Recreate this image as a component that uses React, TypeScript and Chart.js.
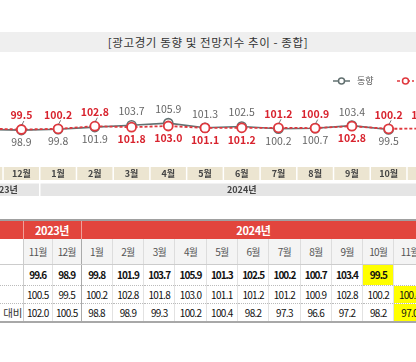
import React, { useEffect, useRef } from "react";
import { Chart, registerables } from "chart.js";

Chart.register(...registerables);

// ---------- data ----------
const titleText = "[광고경기 동향 및 전망지수 추이 - 종합]";
const months = ["11월", "12월", "1월", "2월", "3월", "4월", "5월", "6월", "7월", "8월", "9월", "10월", "11월"];
const years = ["2023년", "2024년"];
const yearMonthCounts = [2, 11];
const seriesNames = ["동향", "전망"];
const trendValues: (number | null)[] = [99.6, 98.9, 99.8, 101.9, 103.7, 105.9, 101.3, 102.5, 100.2, 100.7, 103.4, 99.5, null];
const outlookValues: (number | null)[] = [100.5, 99.5, 100.2, 102.8, 101.8, 103.0, 101.1, 101.2, 101.2, 100.9, 102.8, 100.2, 100.4];
const yoyValues: (number | null)[] = [102.0, 100.5, 98.8, 98.9, 99.3, 100.2, 100.4, 98.2, 97.3, 96.6, 97.2, 98.2, 97.0];
const rowLabels = ["", "", "대비"];

const FONT = "'Noto Sans CJK KR', 'Noto Sans', sans-serif";
const GRAY = "#627070";
const RED = "#e0383e";

const fmt = (v: number | null) => (v == null ? "" : v.toFixed(1));

const bandsPlugin = {
  id: "bands",
  beforeDraw(chart: any) {
    const { ctx, chartArea } = chart;
    const x = chart.scales.x;
    const n = months.length;
    const w = (chartArea.right - chartArea.left) / n;
    const b = chartArea.bottom;
    ctx.save();
    for (let i = 0; i < n; i++) {
      const cx = x.getPixelForValue(i);
      ctx.fillStyle = "#ece5d1";
      ctx.fillRect(cx - w / 2 + 0.75, b, w - 1.5, 13);
    }
    let start = 0;
    yearMonthCounts.forEach((cnt, k) => {
      const x0 = x.getPixelForValue(start) - w / 2;
      const x1 = x.getPixelForValue(start + cnt - 1) + w / 2;
      ctx.fillStyle = "#e5e5e5";
      ctx.fillRect(x0 + 0.75, b + 16.5, x1 - x0 - 1.5, 12.5);
      ctx.fillStyle = "#444";
      ctx.font = `bold 9px ${FONT}`;
      ctx.textAlign = "center";
      ctx.textBaseline = "middle";
      ctx.fillText(years[k], (x0 + x1) / 2, b + 23);
      start += cnt;
    });
    ctx.restore();
  },
};

const labelsPlugin = {
  id: "valueLabels",
  afterDatasetsDraw(chart: any) {
    const { ctx } = chart;
    const m0 = chart.getDatasetMeta(0);
    const m1 = chart.getDatasetMeta(1);
    ctx.save();
    ctx.textAlign = "center";
    ctx.textBaseline = "middle";
    for (let i = 0; i < months.length; i++) {
      const a = trendValues[i];
      const r = outlookValues[i];
      const pa = m0.data[i];
      const pr = m1.data[i];
      const grayAbove = a != null && (r == null || a > r);
      if (a != null && pa) {
        ctx.font = `10.5px ${FONT}`;
        ctx.fillStyle = "#666";
        ctx.fillText(fmt(a), pa.x, grayAbove ? pa.y - 14 : pa.y + 12);
      }
      if (r != null && pr) {
        ctx.font = `bold 10.5px ${FONT}`;
        ctx.fillStyle = "#d8232e";
        const y = grayAbove ? pr.y + 12 : pr.y - 14;
        ctx.fillText(fmt(r), pr.x, y);
        if (!grayAbove) {
          ctx.strokeStyle = "#555";
          ctx.lineWidth = 0.8;
          ctx.beginPath();
          ctx.moveTo(pr.x + 0.5, pr.y - 4.5);
          ctx.lineTo(pr.x + 2.5, pr.y - 8.5);
          ctx.stroke();
        }
      }
    }
    ctx.restore();
  },
};

const legendPlugin = {
  id: "customLegend",
  afterDraw(chart: any) {
    const { ctx } = chart;
    const y = 25;
    const items = [
      { x: 373, color: GRAY, dash: [] as number[], name: seriesNames[0] },
      { x: 437, color: RED, dash: [3, 2], name: seriesNames[1] },
    ];
    ctx.save();
    items.forEach((it) => {
      ctx.strokeStyle = it.color;
      ctx.lineWidth = 1.5;
      ctx.setLineDash(it.dash);
      ctx.beginPath();
      ctx.moveTo(it.x, y);
      ctx.lineTo(it.x + 17, y);
      ctx.stroke();
      ctx.setLineDash([]);
      ctx.fillStyle = "#fff";
      ctx.beginPath();
      ctx.arc(it.x + 8.5, y, 3, 0, Math.PI * 2);
      ctx.fill();
      ctx.stroke();
      ctx.fillStyle = "#555";
      ctx.font = `9px ${FONT}`;
      ctx.textAlign = "left";
      ctx.textBaseline = "middle";
      ctx.fillText(it.name, it.x + 24, y);
    });
    ctx.restore();
  },
};

function ChartBlock() {
  const ref = useRef<HTMLCanvasElement | null>(null);
  useEffect(() => {
    if (!ref.current) return;
    const chart = new Chart(ref.current, {
      type: "line",
      data: {
        labels: months,
        datasets: [
          {
            label: seriesNames[0],
            data: trendValues,
            borderColor: GRAY,
            borderWidth: 1.6,
            pointRadius: 4.5,
            pointBackgroundColor: "#fff",
            pointBorderColor: GRAY,
            pointBorderWidth: 1.6,
            tension: 0,
            order: 1,
          },
          {
            label: seriesNames[1],
            data: outlookValues,
            borderColor: RED,
            borderWidth: 1.8,
            borderDash: [3, 2],
            pointRadius: 4.5,
            pointBackgroundColor: "#fff",
            pointBorderColor: RED,
            pointBorderWidth: 1.8,
            tension: 0,
            order: 0,
          },
        ],
      },
      options: {
        responsive: false,
        animation: false,
        devicePixelRatio: 1,
        layout: { padding: { top: 31, left: 0, right: 0, bottom: 0 } },
        plugins: { legend: { display: false }, tooltip: { enabled: false }, title: { display: false } },
        scales: {
          x: {
            type: "category",
            offset: true,
            grid: { display: false, drawTicks: false },
            border: { display: false },
            ticks: {
              font: { size: 9, weight: "bold", family: FONT },
              color: "#444",
              padding: 1,
              maxRotation: 0,
              autoSkip: false,
            },
            afterFit: (scale: any) => {
              scale.height = 34;
            },
          },
          y: { display: false, min: 62, max: 142 },
        },
      },
      plugins: [bandsPlugin, labelsPlugin, legendPlugin],
    } as any);
    return () => chart.destroy();
  }, []);
  return (
    <canvas
      ref={ref}
      width={490}
      height={145}
      style={{ position: "absolute", left: -40, top: 56, width: 490, height: 145 }}
    />
  );
}

const colWidths = [23, 29.5, 28.5, ...Array(11).fill(31.3)];

function DataTable() {
  const base: React.CSSProperties = {
    padding: 0,
    textAlign: "center",
    fontFamily: FONT,
    whiteSpace: "nowrap",
    overflow: "hidden",
  };
  const rows = [
    { values: trendValues, bold: true, height: 21, hl: 11, border: "1px dotted #bbb" },
    { values: outlookValues, bold: false, height: 18, hl: 12, border: "1px dotted #bbb" },
    { values: yoyValues, bold: false, height: 19, hl: 12, border: "none" },
  ];
  return (
    <table
      style={{
        position: "absolute",
        top: 219,
        left: 0,
        borderCollapse: "collapse",
        tableLayout: "fixed",
        width: colWidths.reduce((s, v) => s + v, 0),
        borderTop: "2px solid #a0a0a0",
        borderBottom: "2px solid #a8a8a8",
      }}
    >
      <colgroup>
        {colWidths.map((w, i) => (
          <col key={i} style={{ width: w }} />
        ))}
      </colgroup>
      <tbody>
        <tr style={{ height: 19 }}>
          <td style={{ ...base, background: "#e2453d", borderRight: "1px solid #f0a09a" }} />
          <td
            colSpan={yearMonthCounts[0]}
            style={{ ...base, background: "#e2453d", color: "#fff", fontWeight: "bold", fontSize: 11, letterSpacing: -0.4, borderRight: "1px solid #f0a09a" }}
          >
            {years[0]}
          </td>
          <td
            colSpan={yearMonthCounts[1]}
            style={{ ...base, background: "#e2453d", color: "#fff", fontWeight: "bold", fontSize: 11, letterSpacing: -0.4 }}
          >
            {years[1]}
          </td>
        </tr>
        <tr style={{ height: 25 }}>
          <td style={{ ...base, background: "#fff", borderRight: "1px solid #ccc", borderBottom: "1px solid #ccc" }} />
          {months.map((m, i) => (
            <td
              key={i}
              style={{
                ...base,
                background: "#f4f4f4",
                color: "#555",
                fontSize: 10,
                letterSpacing: -0.8,
                borderRight: i === 1 ? "1px solid #aaa" : "1px solid #ddd",
                borderBottom: "1px solid #ccc",
              }}
            >
              {m}
            </td>
          ))}
        </tr>
        {rows.map((row, r) => (
          <tr key={r} style={{ height: row.height }}>
            <td style={{ ...base, fontSize: 10.5, color: "#333", textAlign: "right", borderRight: "1px solid #ccc", borderBottom: row.border }}>
              {rowLabels[r]}
            </td>
            {row.values.map((v, i) => (
              <td
                key={i}
                style={{
                  ...base,
                  fontSize: 10,
                  fontWeight: row.bold ? "bold" : "normal",
                  letterSpacing: row.bold ? -1 : -0.7,
                  color: "#111",
                  background: i === row.hl ? "#ffff00" : "#fff",
                  borderRight: i === 1 ? "1px solid #aaa" : "1px solid #e2e2e2",
                  borderBottom: row.border,
                }}
              >
                {fmt(v)}
              </td>
            ))}
          </tr>
        ))}
      </tbody>
    </table>
  );
}

export default function App() {
  return (
    <div
      style={{
        position: "fixed",
        top: 0,
        left: 0,
        width: 416,
        height: 362,
        overflow: "hidden",
        background: "#fff",
      }}
    >
      <div
        style={{
          position: "absolute",
          top: 32,
          left: 0,
          width: 416,
          height: 20,
          lineHeight: "20px",
          background: "#efefef",
          color: "#333",
          fontSize: 11.5,
          letterSpacing: 0.6,
          fontFamily: FONT,
          textAlign: "center",
        }}
      >
        {titleText}
      </div>
      <ChartBlock />
      <DataTable />
    </div>
  );
}
